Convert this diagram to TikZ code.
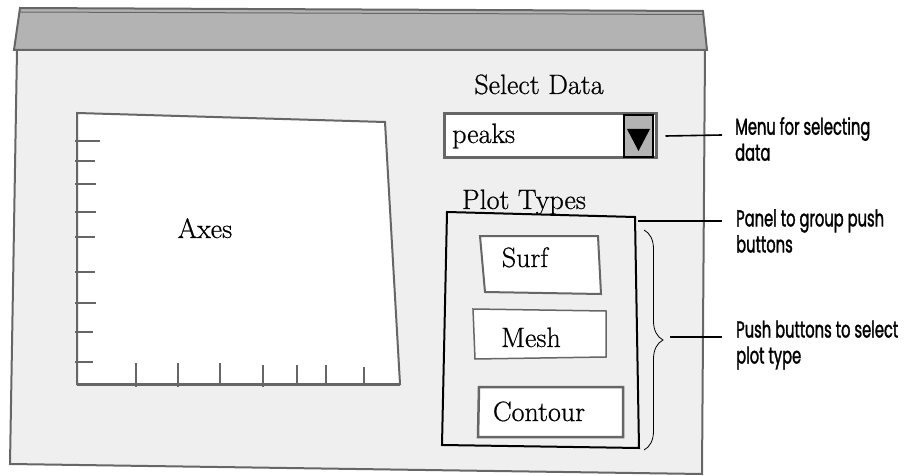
\documentclass[tikz,border=0pt]{standalone}
\usepackage{fontspec}
\newfontfamily\annfont[FakeStretch=0.64, FakeBold=1.4]{Poppins}
\newfontfamily\uifont{Latin Modern Roman}[FakeBold=0.7]
\usetikzlibrary{decorations.pathreplacing}
\definecolor{winbody}{HTML}{EFEFEF}
\definecolor{winbar}{HTML}{B3B3B3}
\definecolor{edge}{HTML}{666666}
\tikzset{
  uitext/.style={font=\uifont\fontsize{28}{32}\selectfont, inner sep=0pt},
  anntext/.style={font=\annfont\fontsize{23}{26}\selectfont, align=left, anchor=west, inner sep=0pt},
  tickline/.style={draw=edge, line width=2pt},
  conn/.style={draw=black, line width=1.6pt},
  btn/.style={draw=edge, line width=2pt, fill=white},
}
\begin{document}
\begin{tikzpicture}[x=1pt,y=-1pt]
\useasboundingbox (0,0) rectangle (911,476);
% window body
\path[fill=winbody, draw=edge, line width=2pt] (17,50) -- (705,50) -- (702,474) -- (10,464) -- cycle;
% title bar
\path[fill=winbar, draw=edge, line width=2pt] (20,8) -- (703,11) -- (707,50) -- (14,50) -- cycle;
\draw[edge, line width=1pt] (20,12) -- (703,14.5);
% axes
\path[fill=white, draw=edge, line width=2pt] (77,113) -- (385,122) -- (400,384) -- (77,384) -- cycle;
\draw[edge, line width=3pt] (77,384) -- (400,384);
\foreach \y/\e in {141/100,161/95,184/96,212/96,237/95,272/95,303/96,332/93,362/93}
  \draw[tickline] (75,\y) -- (\e,\y);
\foreach \x/\t/\b in {136/363/387,178/363/387,220/363/384,263/365/387,297/365/384,326/365/384,364/367/384}
  \draw[tickline] (\x,\t) -- (\x,\b);
\node[uitext, anchor=base] (axes) at (205,238) {Axes};
% popup menu
\node[uitext, anchor=base] (selectlbl) at (539,94) {Select Data};
\node[draw=edge, line width=3pt, fill=white, minimum width=212pt, minimum height=44pt, inner sep=0pt] (popup) at (550,136) {};
\node[uitext, anchor=base west] (peaks) at (452,143) {peaks};
\path[fill=winbar, draw=black, line width=1.2pt] (624,115) rectangle (653,157);
\fill (627,129) -- (650,129) -- (638.5,151) -- cycle;
% panel
\node[uitext, anchor=base] (plotlbl) at (524,209) {Plot Types};
\draw[black, line width=2pt] (447,212) -- (635,217) -- (639,448) -- (442,445) -- cycle;
% buttons
\path[btn] (480,236) -- (598,236) -- (601,294) -- (485,292) -- cycle;
\node[uitext, anchor=base] (surf) at (525,267) {Surf};
\path[btn, line width=1.5pt] (473,309) -- (606,311) -- (606,357) -- (475,359) -- cycle;
\node[uitext, anchor=base] (mesh) at (531,347) {Mesh};
\path[btn, line width=2.5pt] (479,387) -- (623,387) -- (623,437) -- (478,437) -- cycle;
\node[uitext, anchor=base] (contour) at (539,421) {Contour};
% brace
\draw[decorate, decoration={brace, amplitude=19pt}, line width=0.8pt] (644,230) -- (644,450);
% annotations
\node[anntext] (menuann) at (735,139) {Menu for selecting\\data};
\node[anntext] (panelann) at (736,231) {Panel to group push\\buttons};
\node[anntext] (pushann) at (736,345) {Push buttons to select\\plot type};
\coordinate (menuEnd) at (722,135);
\coordinate (panelR) at (638,221);
\coordinate (panelEnd) at (722,221);
\coordinate (braceTip) at (670,337);
\coordinate (pushEnd) at (722,337);
\draw[conn] ([xshift=8pt]popup.east) -- (menuEnd);
\draw[conn] (panelR) -- (panelEnd);
\draw[conn] (braceTip) -- (pushEnd);
\end{tikzpicture}
\end{document}
